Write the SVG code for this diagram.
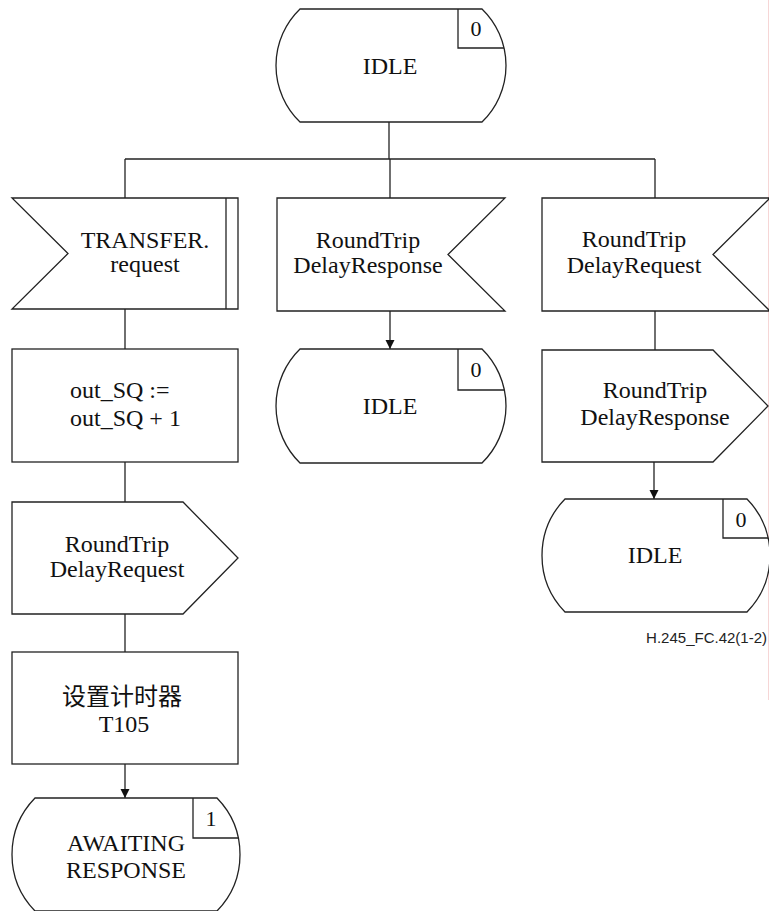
<svg xmlns="http://www.w3.org/2000/svg" width="769" height="911" viewBox="0 0 769 911">
<style>
.s{fill:#fff;stroke:#222;stroke-width:1.3}
.l{fill:none;stroke:#222;stroke-width:1.3}
text{font-family:"Liberation Serif","Noto Sans CJK SC",serif;font-size:24px;fill:#111;text-anchor:middle}
.n{font-size:22px}
.cap{font-family:"Liberation Sans",Arial,sans-serif;font-size:15px;text-anchor:end;fill:#222}
</style>
<defs>
<marker id="ah" markerWidth="9" markerHeight="10" refX="9" refY="4.5" orient="auto" markerUnits="userSpaceOnUse">
<path d="M0,0 L9,4.5 L0,9 Z" fill="#111"/>
</marker>
</defs>
<rect width="769" height="911" fill="#fff"/>
<line x1="768.5" y1="0" x2="768.5" y2="700" stroke="#f6d6d6" stroke-width="1"/>
<g id="connectors">
<line class="l" x1="389" y1="122" x2="389" y2="159"/>
<line class="l" x1="125" y1="159" x2="655" y2="159"/>
<line class="l" x1="125" y1="159" x2="125" y2="198"/>
<line class="l" x1="390" y1="159" x2="390" y2="198"/>
<line class="l" x1="655" y1="159" x2="655" y2="198"/>
<line class="l" x1="125" y1="309" x2="125" y2="349"/>
<line class="l" x1="125" y1="462" x2="125" y2="502"/>
<line class="l" x1="125" y1="614" x2="125" y2="652"/>
<line class="l" x1="125" y1="764" x2="125" y2="798" marker-end="url(#ah)"/>
<line class="l" x1="390" y1="311" x2="390" y2="349" marker-end="url(#ah)"/>
<line class="l" x1="655" y1="311" x2="655" y2="350"/>
<line class="l" x1="654" y1="462" x2="654" y2="499" marker-end="url(#ah)"/>
</g>
<g id="idle-top">
<path class="s" d="M300,9 L482,9 A78.5,78.5 0 0,1 482,122 L300,122 A78.5,78.5 0 0,1 300,9 Z"/>
<path class="l" d="M458,9 L458,48 L504,48"/>
<text class="n" x="476" y="36">0</text>
<text x="390" y="74">IDLE</text>
</g>
<g id="transfer-request">
<path class="s" d="M12,198 L238,198 L238,309 L12,309 L68,253.5 Z"/>
<line class="l" x1="226" y1="198" x2="226" y2="309"/>
<text x="145" y="248">TRANSFER.</text>
<text x="145" y="272">request</text>
</g>
<g id="rtd-response-in">
<path class="s" d="M277,198 L505,198 L448,254.5 L505,311 L277,311 Z"/>
<text x="368" y="248">RoundTrip</text>
<text x="368" y="273">DelayResponse</text>
</g>
<g id="rtd-request-in">
<path class="s" d="M542,198 L770,198 L713,254.5 L770,311 L542,311 Z"/>
<text x="634" y="247">RoundTrip</text>
<text x="634" y="273">DelayRequest</text>
</g>
<g id="task-sq">
<rect class="s" x="12" y="349" width="226" height="113"/>
<text x="70" y="398" style="text-anchor:start">out_SQ :=</text>
<text x="70" y="426" style="text-anchor:start">out_SQ + 1</text>
</g>
<g id="rtd-request-out">
<path class="s" d="M12,502 L183,502 L238,558 L183,614 L12,614 Z"/>
<text x="117" y="552">RoundTrip</text>
<text x="117" y="577">DelayRequest</text>
</g>
<g id="task-timer">
<rect class="s" x="12" y="652" width="226" height="112"/>
<text x="122" y="705">设置计时器</text>
<text x="124" y="732">T105</text>
</g>
<g id="awaiting-response">
<path class="s" d="M35,798 L217,798 A80.9,80.9 0 0,1 217,911 L35,911 A80.9,80.9 0 0,1 35,798 Z"/>
<path class="l" d="M193,798 L193,838 L238,838"/>
<text class="n" x="211" y="826">1</text>
<text x="126" y="851">AWAITING</text>
<text x="126" y="878">RESPONSE</text>
</g>
<g id="idle-mid">
<path class="s" d="M300,349 L482,349 A79.7,79.7 0 0,1 482,463 L300,463 A79.7,79.7 0 0,1 300,349 Z"/>
<path class="l" d="M458,349 L458,390 L504,390"/>
<text class="n" x="476" y="377">0</text>
<text x="390" y="414">IDLE</text>
</g>
<g id="rtd-response-out">
<path class="s" d="M542,350 L713,350 L768,406 L713,462 L542,462 Z"/>
<text x="655" y="398">RoundTrip</text>
<text x="655" y="425">DelayResponse</text>
</g>
<g id="idle-right">
<path class="s" d="M565,499 L747,499 A80.9,80.9 0 0,1 747,612 L565,612 A80.9,80.9 0 0,1 565,499 Z"/>
<path class="l" d="M723,499 L723,538 L768,538"/>
<text class="n" x="741" y="527">0</text>
<text x="655" y="563">IDLE</text>
</g>
<text class="cap" x="767" y="643">H.245_FC.42(1-2)</text>
</svg>
